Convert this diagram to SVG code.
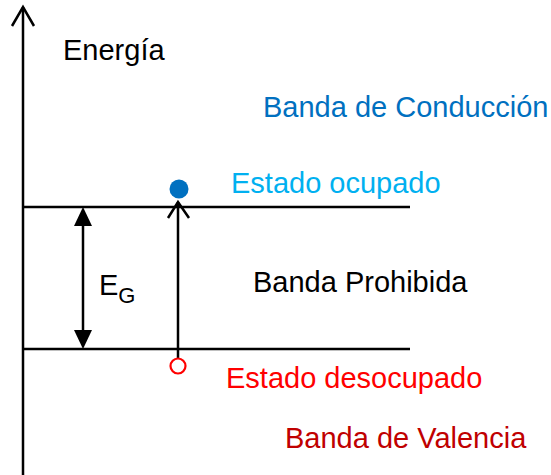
<svg xmlns="http://www.w3.org/2000/svg" width="551" height="475" viewBox="0 0 551 475">
<style>
text{font-family:"Liberation Sans",Arial,sans-serif;font-size:29px}
.ln{stroke:#000;stroke-width:2.5;fill:none}
.head{fill:#000}
</style>
<rect width="551" height="475" fill="#fff"/>
<g id="connectors">
<line class="ln" x1="23" y1="475" x2="23" y2="7"/>
<polyline class="ln" points="12,26 23,7 34,26"/>
<line class="ln" x1="23" y1="207" x2="410" y2="207"/>
<line class="ln" x1="23" y1="349" x2="410" y2="349"/>
<line class="ln" x1="83" y1="220" x2="83" y2="336"/>
<path class="head" d="M83,207 L92,226 L74,226 z"/>
<path class="head" d="M83,349 L92,330 L74,330 z"/>
<line class="ln" x1="178" y1="358" x2="178" y2="202"/>
<polyline class="ln" points="168,218 178,202 189,218"/>
</g>
<g id="electron"><circle cx="179" cy="189" r="9.5" fill="#0070C0"/></g>
<g id="hole"><circle cx="178" cy="366" r="7.5" fill="#fff" stroke="#FF0000" stroke-width="2.2"/></g>
<g id="labels">
<text x="63" y="60" font-size="28.5">Energía</text>
<text x="263" y="117" fill="#0070C0">Banda de Conducción</text>
<text x="231" y="193" fill="#00B0F0">Estado ocupado</text>
<text x="99" y="295" font-size="33">E<tspan font-size="22" dy="8">G</tspan></text>
<text x="253" y="292">Banda Prohibida</text>
<text x="226" y="388" fill="#FF0000">Estado desocupado</text>
<text x="285" y="448" fill="#C00000">Banda de Valencia</text>
</g>
</svg>
